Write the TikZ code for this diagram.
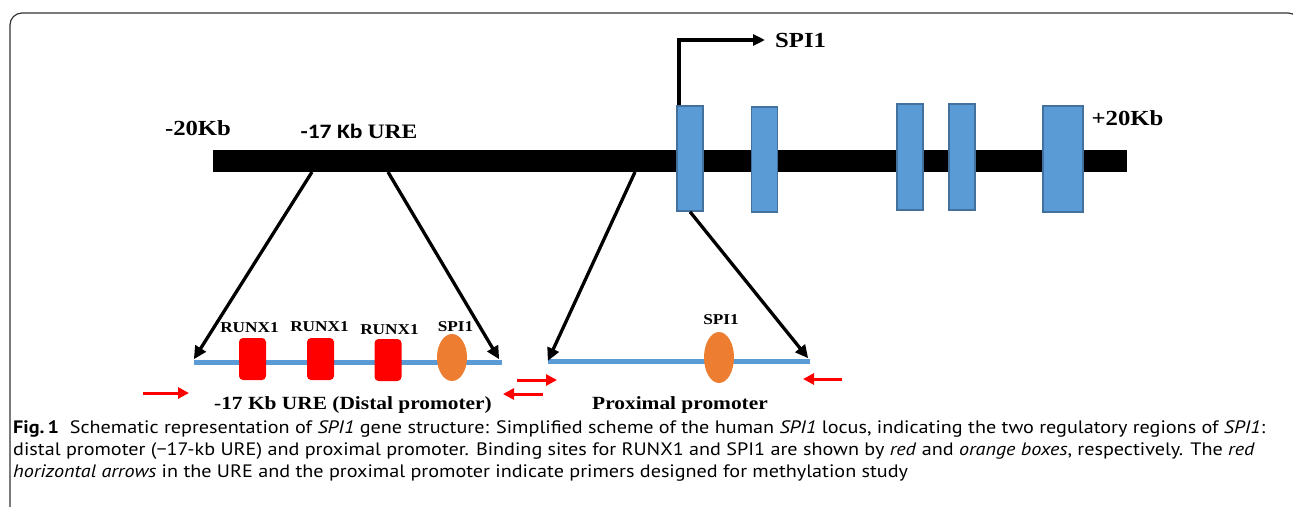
\documentclass[tikz,border=0pt]{standalone}
\usepackage{fontspec}
\usetikzlibrary{arrows.meta,shapes.geometric}
\setmainfont{Liberation Serif}
\newfontfamily\lab[FakeStretch=1.15]{Liberation Serif}
\newfontfamily\labsans[FakeStretch=1.15]{Carlito}
\newfontfamily\capfont[FakeStretch=1.12]{PT Sans}
\definecolor{exonblue}{HTML}{5B9BD5}
\definecolor{exonedge}{HTML}{41719C}
\definecolor{runxred}{HTML}{FF0000}
\definecolor{spiorange}{HTML}{ED7D31}
\definecolor{framegray}{HTML}{333333}
\tikzset{
  exon/.style={fill=exonblue,draw=exonedge,line width=1.5pt,inner sep=0pt},
  dna/.style={fill=exonblue,inner sep=0pt,minimum height=5pt},
  runx/.style={fill=runxred,rounded corners=4pt,inner sep=0pt,minimum width=27pt,minimum height=42pt},
  spisite/.style={ellipse,fill=spiorange,inner sep=0pt,minimum width=30pt},
  zoomline/.style={line width=3.3pt,-{Triangle[length=13pt,width=12pt]}},
  primer/.style={draw=runxred,line width=3pt,-{Triangle[length=11pt,width=11pt]}},
  biglab/.style={inner sep=0pt,font=\fontsize{21.5}{24}\lab\bfseries},
  midlab/.style={inner sep=0pt,font=\fontsize{18.6}{21}\lab\bfseries},
  smalllab/.style={inner sep=0pt,font=\fontsize{15}{17}\lab\bfseries},
  caplab/.style={inner sep=0pt,anchor=base west,font=\fontsize{18}{22}\capfont},
}
\begin{document}
\begin{tikzpicture}[x=1pt,y=-1pt]
\clip (0,0) rectangle (1293,506);
% frame
\draw[framegray,line width=1.2pt,rounded corners=12pt] (10,515) -- (10,13) -- (1300,13) -- (1300,515);
% chromosome bar
\node[fill=black,inner sep=0pt,minimum width=914pt,minimum height=22pt] (bar) at (670,161) {};
% exons
\node[exon,minimum width=26pt,minimum height=105pt] (e1) at (690,158.5) {};
\node[exon,minimum width=26pt,minimum height=105pt] (e2) at (764.5,159.5) {};
\node[exon,minimum width=26pt,minimum height=106pt] (e3) at (910,157) {};
\node[exon,minimum width=26pt,minimum height=106pt] (e4) at (962,157) {};
\node[exon,minimum width=40pt,minimum height=106pt] (e5) at (1063,159) {};
% top labels
\node[biglab] (m20) at (198,128) {-20Kb};
\node[biglab] (p20) at (1127.5,118) {+20Kb};
\node[inner sep=0pt,font=\fontsize{20.5}{23}\bfseries] (ure) at (359,131) {{\labsans -17 Kb} {\lab URE}};
\node[biglab,anchor=west] (spitop) at (775,40) {SPI1};
% TSS arrow
\draw[line width=3.3pt,-{Triangle[length=12pt,width=11pt]}] ([xshift=-11pt]e1.north) |- ([xshift=-10pt]spitop.west);
% regulatory lines
\node[dna,minimum width=308pt] (dl) at (348,362) {};
\node[dna,minimum width=262pt] (pl) at (679,361) {};
% zoom connectors
\coordinate (u1) at (312,172);
\coordinate (u2) at (388,172);
\coordinate (u3) at (635,172);
\draw[zoomline] (u1) -- (dl.north west);
\draw[zoomline] (u2) -- ([xshift=-3pt]dl.north east);
\draw[zoomline] (u3) -- (pl.west);
\draw[zoomline] (e1.south) -- ([xshift=-2pt]pl.north east);
% binding sites
\node[runx] (r1) at (252.5,359) {};
\node[runx] (r2) at (320.5,359) {};
\node[runx] (r3) at (388,360) {};
\node[spisite,minimum height=47pt] (s1) at (452,357.5) {};
\node[spisite,minimum height=51pt] (s2) at (719,357.5) {};
\node[smalllab] (lr1) at (249.5,328) {RUNX1};
\node[smalllab] (lr2) at (319.5,327) {RUNX1};
\node[smalllab] (lr3) at (389.5,330) {RUNX1};
\node[smalllab] (ls1) at (455.5,327) {SPI1};
\node[smalllab] (ls2) at (721,320) {SPI1};
% primers
\coordinate (pa1) at (143,393); \coordinate (pb1) at (189,393);
\coordinate (pa2) at (517,380); \coordinate (pb2) at (557,380);
\coordinate (pa3) at (543,394); \coordinate (pb3) at (503,394);
\coordinate (pa4) at (842,379); \coordinate (pb4) at (803,379);
\draw[primer] (pa1) -- (pb1);
\draw[primer] (pa2) -- (pb2);
\draw[primer] (pa3) -- (pb3);
\draw[primer] (pa4) -- (pb4);
% region labels
\node[midlab] (dlab) at (353,405) {-17 Kb URE (Distal promoter)};
\node[midlab] (plab) at (680,405) {Proximal promoter};
% caption
\node[caplab] (c1) at (13,433) {\textbf{Fig.\,1}\hspace{0.6em}Schematic representation of \textit{SPI1} gene structure: Simplified scheme of the human \textit{SPI1} locus, indicating the two regulatory regions of \textit{SPI1}:};
\node[caplab] (c2) at (13,455) {distal promoter (−17-kb URE) and proximal promoter. Binding sites for RUNX1 and SPI1 are shown by \textit{red} and \textit{orange boxes}, respectively. The \textit{red}};
\node[caplab] (c3) at (13,477) {\textit{horizontal arrows} in the URE and the proximal promoter indicate primers designed for methylation study};
\end{tikzpicture}
\end{document}
